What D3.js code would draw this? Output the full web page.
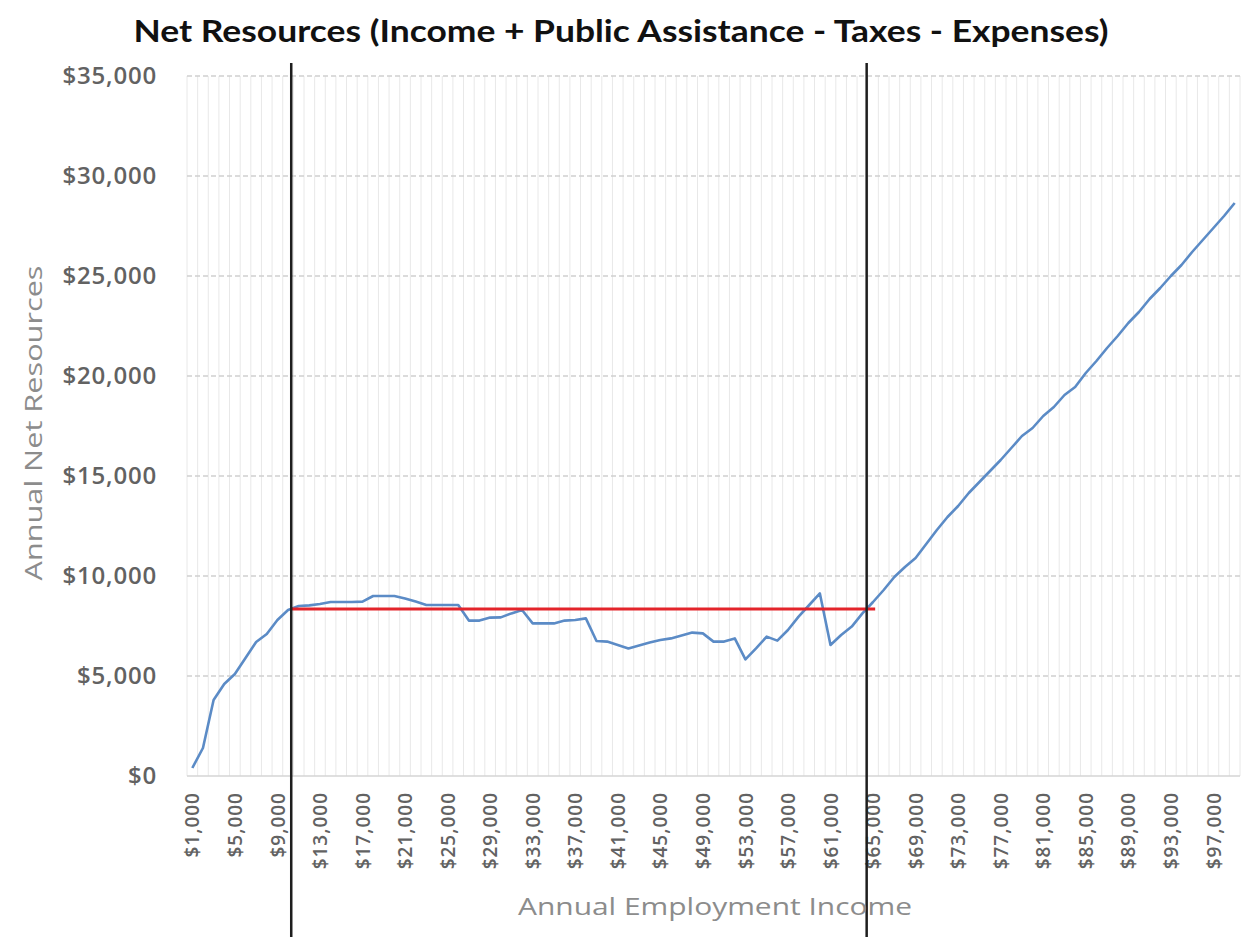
<!DOCTYPE html>
<html>
<head>
<meta charset="utf-8">
<script src="https://cdn.jsdelivr.net/npm/d3@7"></script>
<style>
  html, body { margin: 0; padding: 0; background: #fff; }
  svg { display: block; }
</style>
</head>
<body>
<svg id="chart" width="1248" height="937"></svg>
<script>
// ---- data ----
const incomes = d3.range(1000, 100000, 1000); // $1,000 .. $99,000
const netResources = [
  400, 1400, 3800, 4600, 5100, 5900, 6700, 7100, 7800, 8300,
  8500, 8530, 8600, 8700, 8700, 8700, 8720, 9000, 9000, 9000,
  8880, 8720, 8550, 8550, 8550, 8550, 7770, 7770, 7920, 7930,
  8130, 8300, 7630, 7630, 7630, 7770, 7800, 7880, 6750, 6720,
  6550, 6380, 6520, 6670, 6800, 6880, 7020, 7170, 7130, 6720,
  6720, 6880, 5830, 6380, 6970, 6770, 7300, 7970, 8550, 9130,
  6550, 7050, 7470, 8130, 8700, 9300, 9950, 10450, 10900, 11600,
  12300, 12950, 13500, 14150, 14700, 15250, 15800, 16400, 17000, 17400,
  18000, 18450, 19050, 19450, 20150, 20750, 21400, 22000, 22650, 23200,
  23850, 24400, 25000, 25550, 26200, 26800, 27400, 28000, 28650
];
const xTickValues = [1000, 5000, 9000, 13000, 17000, 21000, 25000, 29000, 33000, 37000,
  41000, 45000, 49000, 53000, 57000, 61000, 65000, 69000, 73000, 77000, 81000, 85000,
  89000, 93000, 97000];
const yTickValues = [0, 5000, 10000, 15000, 20000, 25000, 30000, 35000];
const thresholdIncomes = [10300, 64400];
const baselineRange = [10300, 65200];
const baselineValue = 8350;

const title = "Net Resources (Income + Public Assistance - Taxes - Expenses)";
const xTitle = "Annual Employment Income";
const yTitle = "Annual Net Resources";

// ---- layout ----
const L = 187, R = 1240, T = 76, B = 776;
const FONT = "'Open Sans', Lato, sans-serif";
const svg = d3.select("#chart");
const fmt = d3.format(",");
const money = v => "$" + fmt(v);

const x = d3.scaleLinear().domain([500, 99500]).range([L, R]);
const y = d3.scaleLinear().domain([0, 35000]).range([B, T]);

// vertical category gridlines
const gridX = d3.range(500, 99501, 1000);
svg.append("g").selectAll("line").data(gridX).join("line")
  .attr("x1", d => x(d)).attr("x2", d => x(d))
  .attr("y1", T).attr("y2", B)
  .attr("stroke", "#e8e8e8").attr("stroke-width", 1);

// horizontal dashed gridlines
svg.append("g").selectAll("line").data(yTickValues.filter(d => d > 0)).join("line")
  .attr("x1", L).attr("x2", R)
  .attr("y1", d => y(d)).attr("y2", d => y(d))
  .attr("stroke", "#cfcfcf").attr("stroke-width", 1.3)
  .attr("stroke-dasharray", "5,3");

// bottom axis line
svg.append("line").attr("x1", L).attr("x2", R).attr("y1", B).attr("y2", B)
  .attr("stroke", "#d4d4d4").attr("stroke-width", 1.5);

// y axis labels
const yAxis = d3.axisLeft(y).tickValues(yTickValues).tickFormat(money).tickSize(0).tickPadding(0);
const gy = svg.append("g").attr("transform", `translate(${L - 30},0)`).call(yAxis);
gy.select(".domain").remove();
gy.selectAll("text")
  .attr("font-family", FONT)
  .attr("font-weight", 600)
  .attr("font-size", 24)
  .attr("letter-spacing", 0.8)
  .attr("fill", "#626262");

// x axis labels (rotated)
const xAxis = d3.axisBottom(x).tickValues(xTickValues).tickFormat(money).tickSize(0).tickPadding(0);
const gx = svg.append("g").attr("transform", `translate(0,${B})`).call(xAxis);
gx.select(".domain").remove();
gx.selectAll("text")
  .attr("font-family", FONT)
  .attr("font-weight", 600)
  .attr("font-size", 19)
  .attr("letter-spacing", 1)
  .attr("fill", "#626262")
  .attr("text-anchor", "end")
  .attr("dy", "0.35em")
  .attr("transform", "translate(0,16) rotate(-90)")
  .attr("x", 0).attr("y", 0);

// data line
const line = d3.line().x((d, i) => x(incomes[i])).y(d => y(d));
svg.append("path").datum(netResources)
  .attr("d", line)
  .attr("fill", "none")
  .attr("stroke", "#5b8bc6")
  .attr("stroke-width", 2.6)
  .attr("stroke-linejoin", "round");

// baseline red
svg.append("line")
  .attr("x1", x(baselineRange[0])).attr("x2", x(baselineRange[1]))
  .attr("y1", y(baselineValue)).attr("y2", y(baselineValue))
  .attr("stroke", "#e3242b").attr("stroke-width", 3);

// threshold black lines
svg.append("g").selectAll("line").data(thresholdIncomes).join("line")
  .attr("x1", d => x(d)).attr("x2", d => x(d))
  .attr("y1", 63).attr("y2", 937)
  .attr("stroke", "#1e1e1e").attr("stroke-width", 2.5);

// titles
svg.append("text").attr("x", 621).attr("y", 42)
  .attr("text-anchor", "middle")
  .attr("font-family", "Lato, 'Open Sans', sans-serif")
  .attr("font-weight", "bold").attr("font-size", 31)
  .attr("textLength", 975).attr("lengthAdjust", "spacingAndGlyphs")
  .attr("fill", "#111").text(title);

svg.append("text").attr("x", 715).attr("y", 915)
  .attr("text-anchor", "middle")
  .attr("font-family", FONT)
  .attr("font-size", 24)
  .attr("textLength", 394).attr("lengthAdjust", "spacingAndGlyphs")
  .attr("fill", "#8c8c8c").text(xTitle);

svg.append("text")
  .attr("transform", "translate(42,423) rotate(-90)")
  .attr("text-anchor", "middle")
  .attr("font-family", FONT)
  .attr("font-size", 24)
  .attr("textLength", 315).attr("lengthAdjust", "spacingAndGlyphs")
  .attr("fill", "#8c8c8c").text(yTitle);
</script>
</body>
</html>
